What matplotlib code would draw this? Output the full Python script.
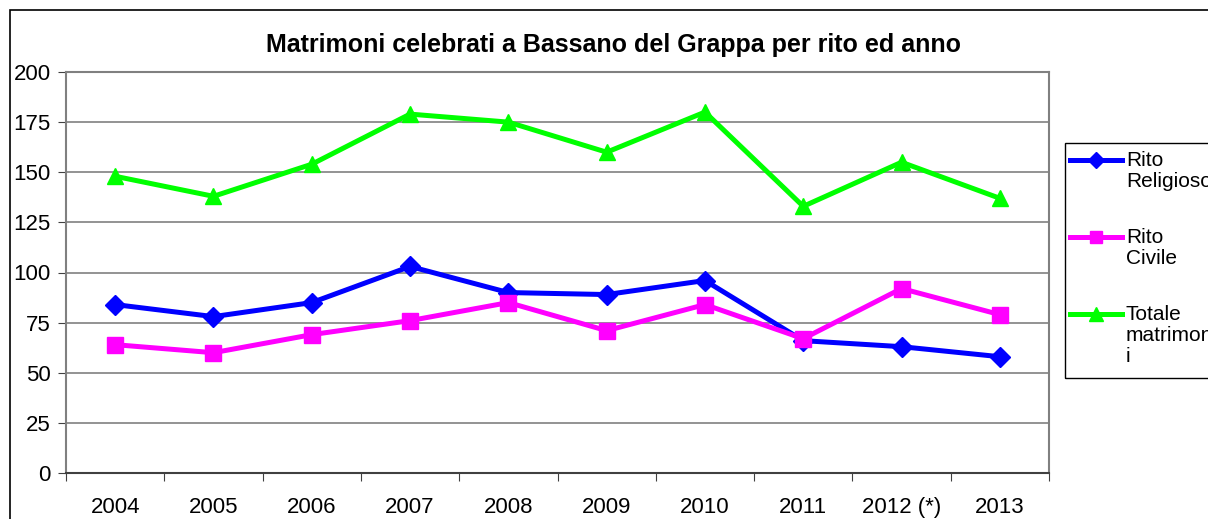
import matplotlib.pyplot as plt
from matplotlib.patches import Rectangle
from matplotlib.lines import Line2D

plt.rcParams['font.family'] = ['Liberation Sans', 'DejaVu Sans']

years = ['2004', '2005', '2006', '2007', '2008', '2009', '2010', '2011', '2012 (*)', '2013']
rito_religioso = [84, 78, 85, 103, 90, 89, 96, 66, 63, 58]
rito_civile = [64, 60, 69, 76, 85, 71, 84, 67, 92, 79]
totale = [148, 138, 154, 179, 175, 160, 180, 133, 155, 137]

series = [
    (rito_religioso, 'Rito\nReligioso', '#0000ff', 'D', 10.5),
    (rito_civile, 'Rito\nCivile', '#ff00ff', 's', 11),
    (totale, 'Totale\nmatrimon\ni', '#00ff00', '^', 12),
]

W, H = 1208, 519
fig = plt.figure(figsize=(W / 100, H / 100), dpi=100)


def fx(px):
    return px / W


def fy(py):
    return 1 - py / H


# outer chart border (runs off right/bottom edges like the original)
fig.patches.append(Rectangle((fx(10), -0.1), 1.2, fy(10) + 0.1,
                             transform=fig.transFigure, fill=False,
                             edgecolor='black', linewidth=1.2))

ax = fig.add_axes([fx(66), fy(473), fx(1049 - 66), (473 - 72) / H])
x = list(range(len(years)))

for i, (vals, label, color, marker, ms) in enumerate(series):
    ax.plot(x, vals, color=color, lw=3.6, marker=marker, ms=ms,
            zorder=4 - i // 2)

ax.set_xlim(-0.5, len(years) - 0.5)
ax.set_ylim(0, 200)
ax.set_yticks(range(0, 201, 25))
ax.yaxis.grid(True, color='#808080', lw=1.2)
ax.set_axisbelow(True)

ax.set_xticks([i - 0.5 for i in range(len(years) + 1)])
ax.set_xticklabels([])
ax.set_xticks(x, minor=True)
ax.set_xticklabels(years, minor=True)
ax.tick_params(axis='x', which='major', length=6, direction='out', color='#404040')
ax.tick_params(axis='x', which='minor', length=0, pad=17, labelsize=16)
ax.tick_params(axis='y', length=6, direction='out', color='#404040', labelsize=16, pad=5)

for side in ['left', 'right', 'top']:
    ax.spines[side].set_color('#808080')
    ax.spines[side].set_linewidth(1.5)
ax.spines['bottom'].set_color('#404040')
ax.spines['bottom'].set_linewidth(1.5)

fig.text(fx(613), fy(45), 'Matrimoni celebrati a Bassano del Grappa per rito ed anno',
         ha='center', va='center', fontsize=18, fontweight='bold')

# legend drawn by hand so the handle sits on the first text line
fig.patches.append(Rectangle((fx(1065), fy(378)), 0.2, (378 - 143) / H,
                             transform=fig.transFigure, fill=False,
                             edgecolor='black', linewidth=1.0))
for i, (vals, label, color, marker, ms) in enumerate(series):
    y0 = 160 + 77 * i
    fig.lines.append(Line2D([fx(1070), fx(1122)], [fy(y0), fy(y0)],
                            transform=fig.transFigure, color=color, lw=3.6))
    fig.lines.append(Line2D([fx(1096)], [fy(y0)], transform=fig.transFigure,
                            color=color, marker=marker, ms=ms * 0.8, lw=0))
    fig.text(fx(1126), fy(y0 - 9), label, ha='left', va='top',
             fontsize=15, linespacing=1.15)

fig.savefig('out.png', dpi=100)
